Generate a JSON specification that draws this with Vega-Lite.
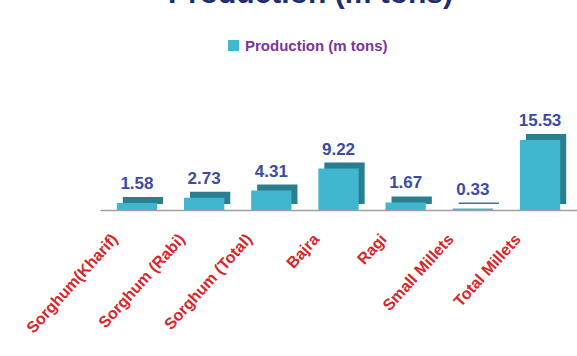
{
  "$schema": "https://vega.github.io/schema/vega-lite/v6.json",
  "width": 477,
  "height": 90,
  "autosize": "none",
  "padding": {"left": 100, "top": 120, "right": 0, "bottom": 146},
  "background": "white",
  "title": {"text": "Production (m tons)", "fontSize": 30, "font": "Liberation Sans", "fontWeight": "bold", "color": "#1F2D6E", "anchor": "middle", "dx": -28, "dy": 29, "offset": 28, "baseline": "bottom"},
  "data": {"values": [
    {"crop": "Sorghum(Kharif)", "production": 1.58},
    {"crop": "Sorghum (Rabi)", "production": 2.73},
    {"crop": "Sorghum (Total)", "production": 4.31},
    {"crop": "Bajra", "production": 9.22},
    {"crop": "Ragi", "production": 1.67},
    {"crop": "Small Millets", "production": 0.33},
    {"crop": "Total Millets", "production": 15.53}
  ]},
  "encoding": {
    "x": {"field": "crop", "type": "nominal", "sort": null,
      "scale": {"paddingInner": 0.4, "paddingOuter": 0.25},
      "axis": {"title": null, "labelAngle": -48, "labelColor": "#D8262C", "labelFontSize": 16, "labelFontWeight": "bold", "labelFont": "Liberation Sans", "ticks": false, "domain": true, "domainColor": "#A0A0A0", "domainWidth": 1.5, "labelOffset": -22, "labelPadding": 26, "labelLimit": 300}},
    "y": {"field": "production", "type": "quantitative", "scale": {"domain": [0, 20]}, "axis": null}
  },
  "layer": [
    {"mark": {"type": "bar", "color": "#2B7E8F", "xOffset": 6, "yOffset": -6}},
    {"mark": {"type": "bar"},
     "encoding": {"color": {"datum": "Production (m tons)", "type": "nominal", "scale": {"range": ["#41B6CF"]},
       "legend": {"title": null, "orient": "none", "legendX": 126, "legendY": -82, "symbolType": "square", "symbolSize": 121, "labelFontSize": 15, "labelFontWeight": "bold", "labelColor": "#7B35A0", "labelFont": "Liberation Sans", "symbolOpacity": 1, "symbolStrokeWidth": 0}}}},
    {"mark": {"type": "text", "dy": -10, "fontWeight": "bold", "fontSize": 17, "font": "Liberation Sans", "color": "#3B4BA8", "baseline": "bottom"},
     "encoding": {"text": {"field": "production", "type": "quantitative", "format": ".2f"}}}
  ],
  "config": {"view": {"stroke": null}}
}
